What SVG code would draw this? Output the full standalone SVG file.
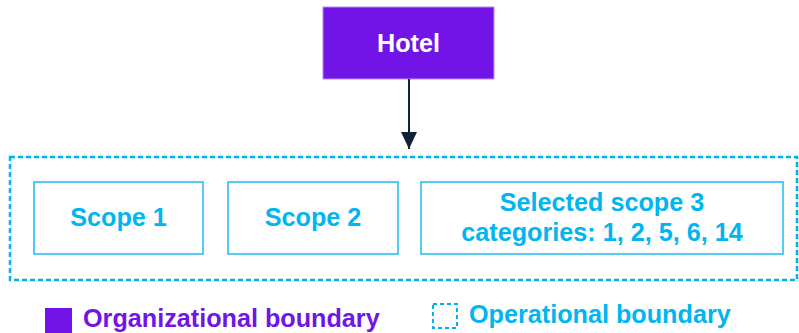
<svg xmlns="http://www.w3.org/2000/svg" width="799" height="333" viewBox="0 0 799 333">
<style>
.lbl{font-family:"Liberation Sans",Arial,sans-serif;font-weight:bold;font-size:25.2px;text-anchor:middle}
.cy{fill:#00B5F0}
.box{fill:#fff;stroke:#1CBAF2;stroke-width:1.5}
.dash{fill:none;stroke:#00B0F0;stroke-width:2.5;stroke-dasharray:5 3}
</style>
<defs>
<marker id="ah" viewBox="0 0 17 16" refX="17" refY="8" markerWidth="17" markerHeight="16" markerUnits="userSpaceOnUse" orient="auto">
<path d="M0,0 L17,8 L0,16 Z" fill="#102238"/>
</marker>
</defs>
<g id="boundary">
<rect class="dash" x="10" y="157" width="787" height="123"/>
</g>
<g id="hotel">
<rect x="323" y="7" width="171" height="72" fill="#7214E8" stroke="#B88BF0" stroke-width="1"/>
<text class="lbl" x="408.5" y="52" fill="#fff">Hotel</text>
</g>
<g id="connectors">
<line x1="409" y1="79" x2="409" y2="149" stroke="#102238" stroke-width="2" marker-end="url(#ah)"/>
</g>
<g id="scope1">
<rect class="box" x="34" y="182" width="169" height="72"/>
<text class="lbl cy" x="118.5" y="226">Scope 1</text>
</g>
<g id="scope2">
<rect class="box" x="228" y="182" width="170" height="72"/>
<text class="lbl cy" x="313" y="226">Scope 2</text>
</g>
<g id="scope3">
<rect class="box" x="421" y="182" width="362" height="72"/>
<text class="lbl cy" x="602" y="211">Selected scope 3</text>
<text class="lbl cy" x="602" y="241">categories: 1, 2, 5, 6, 14</text>
</g>
<g id="legend-org">
<rect x="45" y="308" width="27" height="27" fill="#7214E8"/>
<text class="lbl" x="83" y="327" fill="#7214E8" style="text-anchor:start">Organizational boundary</text>
</g>
<g id="legend-op">
<rect class="dash" x="433" y="304" width="24" height="24" style="stroke-width:2;stroke-dasharray:4 3"/>
<text class="lbl cy" x="469" y="323" style="text-anchor:start">Operational boundary</text>
</g>
</svg>
